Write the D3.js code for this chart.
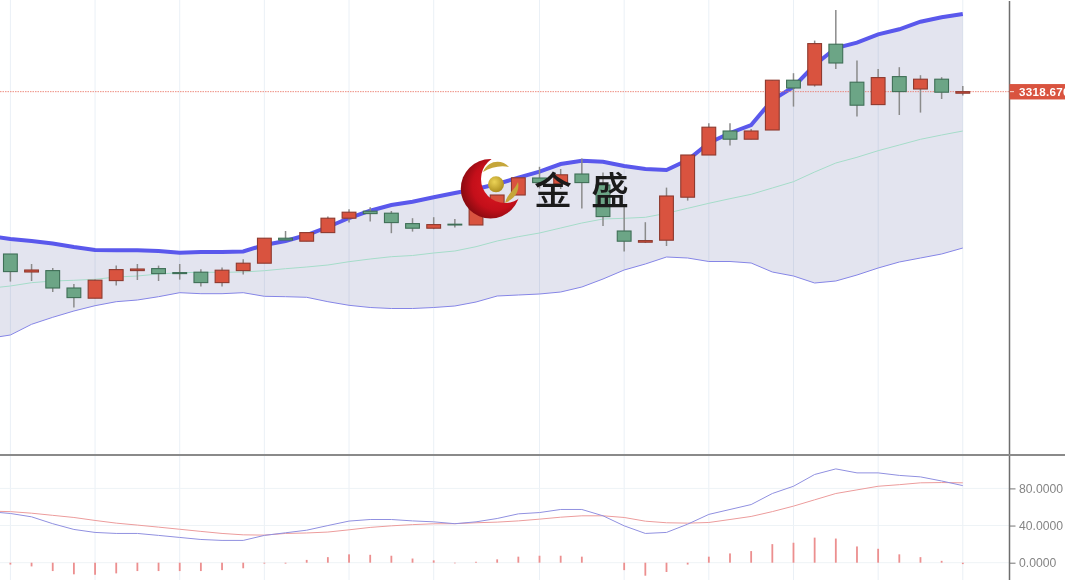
<!DOCTYPE html>
<html>
<head>
<meta charset="utf-8">
<script src="https://cdn.jsdelivr.net/npm/d3@7.9.0/dist/d3.min.js"></script>
<style>
    html, body { margin: 0; padding: 0; background: #fff; overflow: hidden; }
    svg { display: block; filter: blur(0.45px); font-family: "Liberation Sans", sans-serif; }
</style>
</head>
<body>
<svg width="1065" height="580"></svg>
<script>
// candles
const open = [3237.5,3228.5,3229.2,3220.5,3215.4,3224.2,3229.2,3230.2,3228.2,3228.4,3223.2,3229.2,3232.9,3245.4,3243.9,3248.2,3255.4,3258.9,3257.9,3252.7,3250.4,3252.4,3252,3261,3267,3275.5,3272.5,3277.5,3272,3249,3243.4,3244.4,3265.9,3287,3299,3294.9,3299.5,3324.4,3322,3342.4,3323.4,3312.2,3326.2,3320,3324.9,3317.9];
const close = [3228.7,3229.5,3220.5,3215.7,3224.4,3229.7,3230,3227.7,3227.7,3223.2,3229.4,3232.9,3245.4,3244.5,3248.2,3255.4,3258.4,3257.7,3253.2,3250.4,3252.2,3252,3262,3267,3275.6,3273.2,3277.1,3273.2,3256.2,3243.9,3244.2,3266.5,3287,3300.9,3294.9,3299,3324.4,3320.5,3342.7,3333,3311.9,3325.7,3318.7,3324.9,3318.4,3318.67];
const high = [3237.5,3232.5,3230.5,3222.5,3224.8,3231.7,3232.5,3231.7,3232.5,3229.9,3230.7,3234.9,3245.4,3249,3248.2,3256.3,3259.9,3260.9,3259,3255.4,3255.9,3255,3262,3267,3275.6,3281.1,3280,3285.3,3278.3,3261,3253.4,3270.7,3287,3302.9,3302.9,3300,3324.4,3327.9,3344.2,3359.5,3334.2,3330,3330.9,3326.9,3325.9,3321.5];
const low = [3223.7,3224,3218.5,3210.7,3215.4,3221.7,3224.5,3224,3224.7,3221.2,3221.2,3227.2,3232.9,3244.5,3243.9,3248.2,3253.2,3253.7,3247.9,3248.7,3249.9,3250.7,3252,3261,3267,3270.3,3270,3260.3,3251.5,3238.7,3243,3241.5,3264.2,3287,3291.7,3294.9,3299.5,3311.2,3321.2,3330,3306.2,3312.2,3307,3308.2,3315,3316.7];

// bands start one bar before the first candle, off the left edge
const bandUpper = [3246.5,3245,3244,3242.75,3241,3239.5,3239.35,3239.35,3239,3238.15,3238.5,3238.5,3238.75,3242,3244,3247,3251,3255.5,3259.15,3262,3263.65,3265.85,3268,3270,3272.5,3275.65,3278.65,3282.5,3284.15,3283.65,3281.5,3280,3279.5,3284.5,3293,3298,3302,3314.5,3321,3332,3340.5,3343.15,3347.35,3349.85,3353.65,3355.85,3357.5];
const bandMiddle = [3220.35,3221.5,3223.15,3224,3224.35,3224.85,3226,3226.5,3227.5,3228.15,3228.35,3228.35,3228.5,3229.15,3230.15,3231,3232,3233.65,3235,3236.15,3236.75,3238,3239,3241.15,3244,3246.15,3248,3250.5,3253,3255,3255.35,3255.85,3257.85,3260.35,3262.85,3265.15,3267.35,3270.5,3273.65,3278.5,3283,3285.85,3289.15,3292,3294.85,3297,3299];
const bandLower = [3195.35,3197,3202.35,3205.85,3209,3211.65,3213.65,3214.5,3216.15,3218.15,3217.65,3217.65,3218.15,3216.35,3216.15,3215.85,3213.65,3211.85,3210.75,3210.25,3210.25,3210.75,3211.5,3213.5,3216.5,3217,3217.5,3218.5,3221,3225,3229.5,3232.5,3236,3235.5,3233.75,3233.75,3233,3228.5,3226.5,3223,3224,3227,3230.5,3233.5,3235.5,3237.5,3240.5];

// lower panel
const fastLine = [55,53,49.4,42,35.8,32.6,31.5,31.5,29.4,27.2,25,24,24,29.4,32.2,35,40,44.8,46.5,46.5,45,44,42,44,47.6,52.6,54,57.3,57.3,50.5,39.7,31.5,32.6,41.5,52,57.3,62.6,74.5,82.3,95,101,96.7,96.7,94,92.4,88,83];
const slowLine = [55.5,55,53.3,51,48.7,45.5,42.6,40.5,38.3,36,33.7,31.5,30,29.7,31.5,32,33,35.4,38,39.7,41,41.9,42,43,43.7,45,46.9,49,50.5,50.5,48.7,44.7,43,42.6,43.3,46.5,49.8,55,60.9,67.7,74.5,78.4,82.3,84,86,86.3,86];
const histogram = [-2,-4,-9,-12.5,-13,-11.5,-9,-9,-9,-9,-8,-6,-1,-1,3,6,9,8.5,7.5,4.5,2.5,-0.7,1,3.6,6.5,7.5,7.5,6.5,0,-8,-14,-10,-2,6.5,10,12.5,20,21.5,27,26,17.5,15,9,6,2,-1.5];

const gridBars = [0,4,8,12,16,20,25,29,33,37,41,45];
const lowerTicks = [0,40,80];
const lastPrice = 3318.67;
const lastLabel = "3318.6700";

const red = "#d9533f", redEdge = "#8e3a2f";
const green = "#6ca586", greenEdge = "#3f6f57";

const svg = d3.select("svg");

const x = d3.scaleLinear().domain([0, 45]).range([10.4, 962.8]);
const y = d3.scaleLinear().domain([3137.5, 3364.5]).range([454, 0]);
const y2 = d3.scaleLinear().domain([0, 80]).range([562.7, 488.4]);

// bands have one leading point, so shift the index
const bandLine = yScale => d3.line().x((d, i) => x(i - 1)).y(d => yScale(d));

// vertical grid, both panels
svg.append("g").selectAll("line").data(gridBars).join("line")
    .attr("x1", d => x(d)).attr("x2", d => x(d))
    .attr("y1", 0).attr("y2", 580)
    .attr("stroke", "#eaf0f6").attr("stroke-width", 1);

// band fill
svg.append("path")
    .datum(bandUpper)
    .attr("d", d3.area()
        .x((d, i) => x(i - 1))
        .y0((d, i) => y(bandLower[i]))
        .y1(d => y(d)))
    .attr("fill", "#1a237e").attr("fill-opacity", 0.12);

svg.append("path").datum(bandMiddle).attr("d", bandLine(y))
    .attr("fill", "none").attr("stroke", "#a5dcc9").attr("stroke-width", 1);
svg.append("path").datum(bandLower).attr("d", bandLine(y))
    .attr("fill", "none").attr("stroke", "#8585e6").attr("stroke-width", 1);
svg.append("path").datum(bandUpper).attr("d", bandLine(y))
    .attr("fill", "none").attr("stroke", "#5a58ec").attr("stroke-width", 4);

// last price line
svg.append("line")
    .attr("x1", 0).attr("x2", 1009)
    .attr("y1", y(lastPrice)).attr("y2", y(lastPrice))
    .attr("stroke", "#e8705f").attr("stroke-width", 0.8).attr("stroke-dasharray", "1.5 1");

// candles
const candles = svg.append("g").selectAll("g").data(open).join("g");
candles.append("line")
    .attr("x1", (d, i) => x(i)).attr("x2", (d, i) => x(i))
    .attr("y1", (d, i) => y(high[i])).attr("y2", (d, i) => y(low[i]))
    .attr("stroke", "#8b8b8b").attr("stroke-width", 1.5);
candles.append("rect")
    .attr("x", (d, i) => x(i) - 6.9)
    .attr("width", 13.8)
    .attr("y", (d, i) => y(Math.max(open[i], close[i])))
    .attr("height", (d, i) => Math.abs(y(open[i]) - y(close[i])))
    .attr("fill", (d, i) => close[i] >= open[i] ? red : green)
    .attr("stroke", (d, i) => close[i] >= open[i] ? redEdge : greenEdge)
    .attr("stroke-width", 1.1);

// logo sits over the candles
const defs = svg.append("defs");
const logoGrad = defs.append("radialGradient").attr("id", "crescent")
    .attr("cx", "0.6").attr("cy", "0.45").attr("r", "0.62");
logoGrad.append("stop").attr("offset", "0").attr("stop-color", "#e01a22");
logoGrad.append("stop").attr("offset", "0.65").attr("stop-color", "#c40f1a");
logoGrad.append("stop").attr("offset", "1").attr("stop-color", "#840a10");
const ballGrad = defs.append("radialGradient").attr("id", "ball")
    .attr("cx", "0.4").attr("cy", "0.35").attr("r", "0.7");
ballGrad.append("stop").attr("offset", "0").attr("stop-color", "#ecd356");
ballGrad.append("stop").attr("offset", "1").attr("stop-color", "#a98a1c");
const hole = defs.append("mask").attr("id", "crescentHole");
hole.append("rect").attr("width", 1065).attr("height", 580).attr("fill", "#fff");
hole.append("circle").attr("cx", 505).attr("cy", 179).attr("r", 24).attr("fill", "#000");

const logo = svg.append("g");
logo.append("circle").attr("cx", 490.5).attr("cy", 188.7).attr("r", 29.7)
    .attr("fill", "url(#crescent)").attr("mask", "url(#crescentHole)");
logo.append("path")
    .attr("d", "M483 172 C488 160 502 159 509 167 C501 165 491 167 483 172 Z")
    .attr("fill", "#c5a63a");
logo.append("path")
    .attr("d", "M505 203 C515 199 520 191 518 182 C514 191 507 194 505 203 Z")
    .attr("fill", "#c5a63a");
logo.append("circle").attr("cx", 496).attr("cy", 184.3).attr("r", 8)
    .attr("fill", "url(#ball)");
logo.append("text")
    .attr("x", 534).attr("y", 204)
    .attr("font-family", '"Noto Sans CJK SC"')
    .attr("font-size", 38)
    .attr("font-weight", 500)
    .attr("letter-spacing", 19)
    .attr("fill", "#1b1b1b")
    .text("金盛");

// lower panel
svg.append("g").selectAll("line").data(lowerTicks).join("line")
    .attr("x1", 0).attr("x2", 1009)
    .attr("y1", d => y2(d)).attr("y2", d => y2(d))
    .attr("stroke", "#eef3f6").attr("stroke-width", 1);

svg.append("g").selectAll("rect").data(histogram).join("rect")
    .attr("x", (d, i) => x(i) - 0.9)
    .attr("width", 1.8)
    .attr("y", d => y2(Math.max(d, 0)))
    .attr("height", d => Math.abs(y2(d) - y2(0)))
    .attr("fill", "#ec8f8f");

const panelLine = d3.line().x((d, i) => x(i - 1)).y(d => y2(d));
svg.append("path").datum(slowLine).attr("d", panelLine)
    .attr("fill", "none").attr("stroke", "#ec9c9c").attr("stroke-width", 1);
svg.append("path").datum(fastLine).attr("d", panelLine)
    .attr("fill", "none").attr("stroke", "#9090e0").attr("stroke-width", 1);

// price axis and separator
svg.append("line").attr("x1", 1009.5).attr("x2", 1009.5).attr("y1", 1).attr("y2", 580)
    .attr("stroke", "#6e6e6e").attr("stroke-width", 1.5);
svg.append("line").attr("x1", 0).attr("x2", 1065).attr("y1", 455).attr("y2", 455)
    .attr("stroke", "#8a8a8a").attr("stroke-width", 1.8);

const lowerAxis = svg.append("g")
    .attr("transform", "translate(1009.5,0)")
    .call(d3.axisRight(y2).tickValues(lowerTicks).tickSize(6).tickPadding(3.5).tickFormat(d => d.toFixed(4)));
lowerAxis.select(".domain").remove();
lowerAxis.selectAll("line").attr("stroke", "#737373");
lowerAxis.selectAll("text")
    .attr("font-family", '"Liberation Sans", sans-serif')
    .attr("font-size", 12.2).attr("fill", "#858585");

// last price tag, cut by the window edge as in the source
svg.append("rect")
    .attr("x", 1009.5).attr("y", y(lastPrice) - 7.6).attr("width", 56).attr("height", 15.4)
    .attr("fill", red);
svg.append("line")
    .attr("x1", 1010).attr("x2", 1014).attr("y1", y(lastPrice)).attr("y2", y(lastPrice))
    .attr("stroke", "#f6d9d4").attr("stroke-width", 1);
svg.append("text")
    .attr("x", 1019).attr("y", y(lastPrice) + 4.2)
    .attr("font-size", 11.6).attr("font-weight", "bold").attr("letter-spacing", 0.3)
    .attr("fill", "#fff")
    .text(lastLabel);
</script>
</body>
</html>
